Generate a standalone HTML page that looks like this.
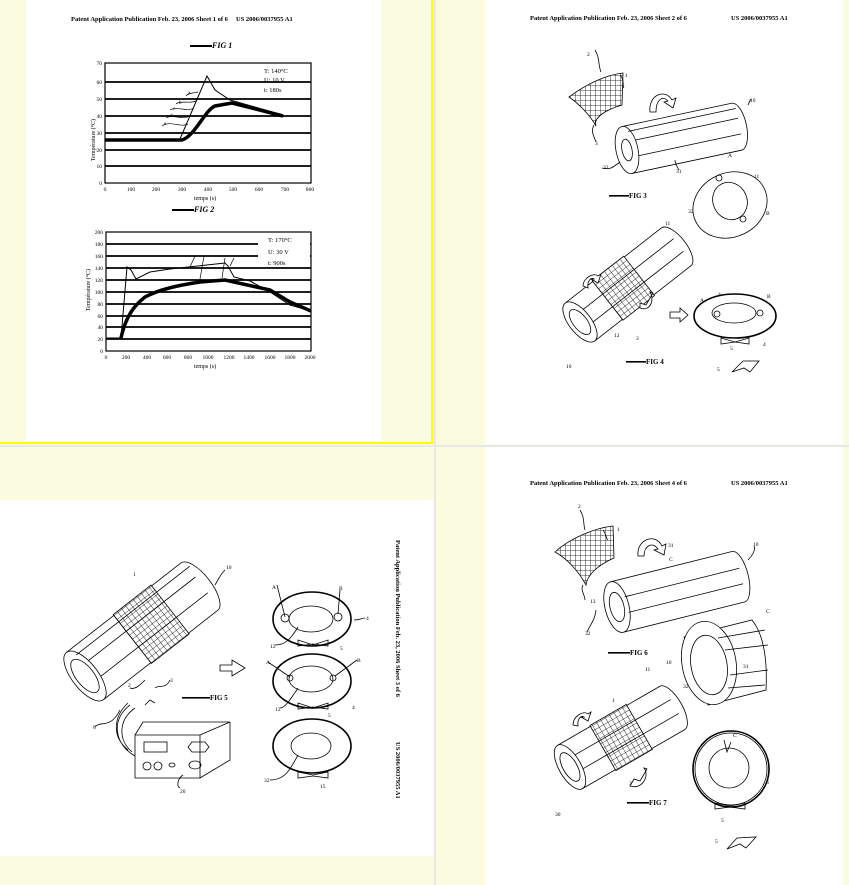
<!DOCTYPE html>
<html><head><meta charset="utf-8"><style>
html,body{margin:0;padding:0;background:#fbfbdf;}
svg{display:block;}
text{font-family:"Liberation Serif",serif;fill:#000;}
</style></head><body>
<svg width="849" height="885" viewBox="0 0 849 885" xmlns="http://www.w3.org/2000/svg">
<rect width="849" height="885" fill="#fbfbdf"/>
<!-- pages -->
<rect x="26" y="0" width="355" height="441" fill="#fff"/>
<rect x="485" y="0" width="358" height="444" fill="#fff"/>
<rect x="485" y="447" width="358" height="438" fill="#fff"/>
<rect x="0" y="500" width="433" height="356" fill="#fff"/>
<!-- dividers -->
<rect x="0" y="442" width="434" height="2" fill="#ffff00"/>
<rect x="431" y="0" width="2" height="444" fill="#ffff00"/>
<rect x="434" y="0" width="2" height="885" fill="#e8e8ea"/>
<rect x="0" y="445" width="849" height="2" fill="#e8e8ea"/>

<!-- ===== TOP LEFT: charts ===== -->
<text x="71" y="21" font-size="6.5" font-weight="bold">Patent Application Publication   Feb. 23, 2006   Sheet 1 of 6</text>
<text x="236" y="21" font-size="6.5" font-weight="bold">US 2006/0037955 A1</text>
<rect x="190" y="45" width="22" height="2" fill="#000"/><text x="212" y="48" font-size="8" font-weight="bold" font-style="italic">FIG 1</text>
<g stroke="#000" fill="none">
<rect x="105" y="63" width="206" height="120" stroke-width="1.2"/>
<g stroke-width="1.8"><line x1="105" y1="82" x2="311" y2="82"/><line x1="105" y1="99" x2="311" y2="99"/><line x1="105" y1="116" x2="311" y2="116"/><line x1="105" y1="133" x2="311" y2="133"/><line x1="105" y1="150" x2="311" y2="150"/><line x1="105" y1="166" x2="311" y2="166"/></g>
<path d="M105 139 L180 139 L207 76 L215 90 L230 100 L283 115" stroke-width="1"/>
<path d="M105 140 L182 140 C195 136 205 110 215 106 L232 103 L283 116" stroke-width="3.5"/>
<path d="M162 126 C170 120 180 128 188 124 M166 118 C172 114 182 120 190 116 M170 110 C176 106 188 112 194 108 M176 104 C180 100 190 104 196 101 M186 96 C188 93 194 93 198 92" stroke-width="0.7"/>
</g>
<g font-size="6.5" font-family="Liberation Sans,sans-serif">
<text x="264" y="73">T: 140°C</text><text x="264" y="82">U: 10 V</text><text x="264" y="92">t: 180s</text>
<text x="164" y="125" font-size="5">e</text><text x="170" y="117" font-size="5">d</text><text x="173" y="110" font-size="5">c</text><text x="179" y="104" font-size="5">b</text><text x="188" y="94" font-size="5">a</text>
</g>
<g font-size="5.5" font-family="Liberation Sans,sans-serif" text-anchor="end">
<text x="102" y="65">70</text><text x="102" y="84">60</text><text x="102" y="101">50</text><text x="102" y="118">40</text><text x="102" y="135">30</text><text x="102" y="152">20</text><text x="102" y="168">10</text><text x="102" y="185">0</text>
</g>
<g font-size="5.5" font-family="Liberation Sans,sans-serif" text-anchor="middle">
<text x="105" y="191">0</text><text x="131" y="191">100</text><text x="156" y="191">200</text><text x="182" y="191">300</text><text x="208" y="191">400</text><text x="233" y="191">500</text><text x="259" y="191">600</text><text x="285" y="191">700</text><text x="310" y="191">800</text>
<text x="205" y="200" font-size="6">temps (s)</text>
</g>
<text x="95" y="140" font-size="6" font-family="Liberation Sans,sans-serif" transform="rotate(-90 95 140)" text-anchor="middle">Température (°C)</text>
<rect x="172" y="209" width="22" height="2" fill="#000"/><text x="194" y="212" font-size="8" font-weight="bold" font-style="italic">FIG 2</text>

<!-- chart 2 -->
<g stroke="#000" fill="none">
<rect x="106" y="232" width="205" height="119" stroke-width="1.2"/>
<g stroke-width="1.8"><line x1="106" y1="244" x2="311" y2="244"/><line x1="106" y1="256" x2="311" y2="256"/><line x1="106" y1="268" x2="311" y2="268"/><line x1="106" y1="280" x2="311" y2="280"/><line x1="106" y1="292" x2="311" y2="292"/><line x1="106" y1="304" x2="311" y2="304"/><line x1="106" y1="316" x2="311" y2="316"/><line x1="106" y1="327" x2="311" y2="327"/><line x1="106" y1="339" x2="311" y2="339"/></g>
<path d="M106 338 L121 338 L127 267 L131 270 L136 279 L150 272 L170 269 L225 263 L228 266 L234 277 L250 281 L270 292 L290 305 L311 311" stroke-width="1"/>
<path d="M121 338 C126 315 135 305 145 297 C160 289 180 285 200 282 L225 280 L270 290 L290 302 L311 311" stroke-width="3.5"/>
<path d="M190 267 L195 256 M200 279 L204 256 M222 278 L225 258 M230 266 L234 258" stroke-width="0.7"/>
</g>
<rect x="258" y="236" width="52" height="30" fill="#fff"/>
<g font-size="6.5" font-family="Liberation Sans,sans-serif">
<text x="268" y="242">T: 170°C</text><text x="268" y="254">U: 30 V</text><text x="268" y="265">t: 900s</text>
</g>
<g font-size="5.5" font-family="Liberation Sans,sans-serif" text-anchor="end">
<text x="103" y="234">200</text><text x="103" y="246">180</text><text x="103" y="258">160</text><text x="103" y="270">140</text><text x="103" y="282">120</text><text x="103" y="294">100</text><text x="103" y="306">80</text><text x="103" y="318">60</text><text x="103" y="329">40</text><text x="103" y="341">20</text><text x="103" y="353">0</text>
</g>
<g font-size="5.5" font-family="Liberation Sans,sans-serif" text-anchor="middle">
<text x="106" y="359">0</text><text x="126" y="359">200</text><text x="147" y="359">400</text><text x="167" y="359">600</text><text x="188" y="359">800</text><text x="208" y="359">1000</text><text x="229" y="359">1200</text><text x="249" y="359">1400</text><text x="270" y="359">1600</text><text x="290" y="359">1800</text><text x="310" y="359">2000</text>
<text x="205" y="368" font-size="6">temps (s)</text>
</g>
<text x="90" y="290" font-size="6" font-family="Liberation Sans,sans-serif" transform="rotate(-90 90 290)" text-anchor="middle">Température (°C)</text>

<!-- ===== shared defs ===== -->
<defs>
<pattern id="mesh" width="5" height="5" patternUnits="userSpaceOnUse"><rect width="5" height="5" fill="#fff"/><path d="M0 0H5M0 0V5" stroke="#000" stroke-width="0.8"/></pattern>
</defs>

<!-- ===== TOP RIGHT ===== -->
<text x="530" y="20" font-size="6.5" font-weight="bold">Patent Application Publication   Feb. 23, 2006   Sheet 2 of 6</text>
<text x="731" y="20" font-size="6.5" font-weight="bold">US 2006/0037955 A1</text>
<g stroke="#000" fill="none" stroke-width="0.8">
<path d="M569 97 C585 85 605 75 623 73 L622 105 C605 110 593 118 596 126 C590 115 578 103 569 97Z" fill="url(#mesh)"/>
<path d="M650 112 C648 95 665 88 672 100 L676 98 L673 108 L664 102 L668 101 C662 95 656 100 656 112Z" fill="#fff"/>
<g transform="translate(627,150) rotate(-12)">
<path d="M0 -24 L112 -24 A10 24 0 0 1 112 24 L0 24" fill="#fff"/>
<ellipse cx="0" cy="0" rx="11" ry="24" fill="#fff"/><ellipse cx="0" cy="0" rx="5" ry="11"/>
<line x1="10" y1="-8" x2="115" y2="-8"/><line x1="10" y1="8" x2="115" y2="8"/><line x1="5" y1="-18" x2="115" y2="-18"/>
</g>
<ellipse cx="730" cy="205" rx="38" ry="32" transform="rotate(-25 730 205)" fill="#fff"/>
<ellipse cx="730" cy="201" rx="17" ry="19" transform="rotate(-25 730 201)"/>
<circle cx="719" cy="178" r="3"/><circle cx="743" cy="219" r="3"/>
<path d="M595 50 C600 58 598 65 601 72 M620 75 C625 80 622 86 624 88 M594 125 C590 132 595 138 596 142 M620 162 C612 168 610 170 602 168 M675 160 C675 164 678 168 679 170 M748 105 C750 100 752 98 750 100"/>
<!-- fig4 cylinder -->
<g transform="translate(580,322) rotate(-38)">
<path d="M0 -24 L122 -24 A10 24 0 0 1 122 24 L0 24" fill="#fff"/>
<rect x="35" y="-25" width="40" height="50" fill="url(#mesh)"/>
<ellipse cx="0" cy="0" rx="11" ry="24" fill="#fff"/><ellipse cx="0" cy="0" rx="7" ry="15"/>
<line x1="10" y1="-8" x2="125" y2="-8"/><line x1="10" y1="8" x2="125" y2="8"/>
</g>
<path d="M583 286 C583 278 594 272 598 276 L601 274 L598 283 L591 279 L594 279 C591 277 587 281 588 288Z" fill="#fff"/>
<path d="M640 308 C650 312 655 300 650 292 L653 293 L646 305 L640 303Z" fill="#fff"/>
<path d="M670 312 H680 V308 L688 315 L680 322 V318 H670Z" fill="#fff"/>
<ellipse cx="735" cy="316" rx="41" ry="22" fill="#fff" stroke-width="1.6"/>
<ellipse cx="734" cy="313" rx="22" ry="10"/>
<circle cx="717" cy="314" r="3"/><circle cx="760" cy="313" r="3"/>
<path d="M721 338 L735 342 L749 338 L749 344 L735 342 L721 344Z"/>
<path d="M732 372 L743 361 L759 361 L750 372 L744 368Z"/>
</g>
<rect x="609" y="195" width="20" height="1.6" fill="#000"/><text x="629" y="198" font-size="7" font-weight="bold">FIG 3</text>
<rect x="626" y="361" width="20" height="1.6" fill="#000"/><text x="646" y="364" font-size="7" font-weight="bold">FIG 4</text>
<g font-size="5.5"><text x="587" y="56">2</text><text x="625" y="77">1</text><text x="595" y="145">3</text><text x="603" y="169">32</text><text x="676" y="173">31</text><text x="750" y="102">10</text><text x="728" y="157">A</text><text x="754" y="178">11</text><text x="688" y="213">32</text><text x="766" y="215">B</text><text x="665" y="225">11</text><text x="700" y="302">A</text><text x="718" y="296">4</text><text x="767" y="298">B</text><text x="763" y="346">4</text><text x="730" y="350">5</text><text x="717" y="371">5</text><text x="614" y="337">12</text><text x="636" y="340">3</text><text x="566" y="368">10</text></g>

<!-- ===== BOTTOM LEFT ===== -->
<text x="396" y="540" font-size="6.5" font-weight="bold" transform="rotate(90 396 540)">Patent Application Publication   Feb. 23, 2006   Sheet 3 of 6</text>
<text x="396" y="742" font-size="6.5" font-weight="bold" transform="rotate(90 396 742)">US 2006/0037955 A1</text>
<g stroke="#000" fill="none" stroke-width="0.8">
<g transform="translate(85,676) rotate(-38)">
<path d="M0 -30 L145 -30 A12 30 0 0 1 145 30 L0 30" fill="#fff"/>
<rect x="60" y="-31" width="48" height="62" fill="url(#mesh)"/>
<ellipse cx="0" cy="0" rx="13" ry="30" fill="#fff"/><ellipse cx="0" cy="0" rx="9" ry="20"/>
<line x1="12" y1="-10" x2="148" y2="-10"/><line x1="12" y1="10" x2="148" y2="10"/><line x1="6" y1="-22" x2="150" y2="-22"/>
</g>
<path d="M220 665 H232 V660 L245 668 L232 676 V671 H220Z" fill="#fff"/>
<path d="M145 705 L150 700 L155 703" />
<path d="M135 735 V778 H200 V735Z M135 735 L143 722 H230 L200 735 M200 778 L230 760 V722" fill="#fff"/>
<rect x="144" y="742" width="23" height="10"/><path d="M188 747 L192 742 H205 L209 747 L205 752 H192Z"/>
<circle cx="147" cy="766" r="4"/><circle cx="158" cy="766" r="4"/><ellipse cx="172" cy="765" rx="3" ry="2"/><ellipse cx="195" cy="765" rx="6" ry="4"/>
<path d="M135 756 C115 745 110 720 130 705 M132 752 C118 740 118 720 135 708 M128 750 C110 735 115 715 128 703"/>
<path d="M95 727 C100 720 110 730 120 710 M130 688 C135 690 140 685 145 680 M155 688 C160 684 165 690 170 680"/>
<path d="M180 788 C176 786 178 778 183 775"/>
<ellipse cx="312" cy="619" rx="39" ry="27" fill="#fff" stroke-width="1.6"/><ellipse cx="311" cy="619" rx="22" ry="13"/>
<circle cx="285" cy="618" r="4"/><circle cx="338" cy="617" r="4"/>
<path d="M298 640 L313 645 L328 640 L328 646 L313 644 L298 646Z"/>
<ellipse cx="312" cy="681" rx="39" ry="27" fill="#fff" stroke-width="1.6"/><ellipse cx="311" cy="679" rx="22" ry="13"/>
<circle cx="290" cy="678" r="3"/><circle cx="333" cy="678" r="3"/>
<path d="M298 703 L313 708 L328 703 L328 709 L313 707 L298 709Z"/>
<ellipse cx="312" cy="746" rx="39" ry="27" fill="#fff" stroke-width="1.6"/><ellipse cx="311" cy="746" rx="20" ry="13"/>
<path d="M298 772 L313 775 L328 772 L328 778 L313 776 L298 778Z"/>
<path d="M277 585 L285 617 M340 590 L338 614 M354 620 C360 620 362 618 365 618 M298 627 C290 640 285 645 275 645 M225 570 C220 575 218 580 215 585 M268 662 L290 677 M357 660 L335 676 M298 688 C290 700 285 708 280 708 M298 755 C290 770 285 780 270 780"/>
</g>
<rect x="182" y="697" width="28" height="1.6" fill="#000"/><text x="210" y="700" font-size="7" font-weight="bold">FIG 5</text>
<g font-size="5.5"><text x="133" y="576">1</text><text x="226" y="569">10</text><text x="128" y="687">2</text><text x="170" y="682">3</text><text x="93" y="729">8</text><text x="180" y="793">20</text><text x="272" y="589">A</text><text x="339" y="590">B</text><text x="366" y="620">4</text><text x="270" y="648">12</text><text x="340" y="650">5</text><text x="266" y="664">A</text><text x="357" y="662">B</text><text x="352" y="709">4</text><text x="275" y="711">12</text><text x="328" y="717">5</text><text x="264" y="782">32</text><text x="320" y="788">15</text></g>

<!-- ===== BOTTOM RIGHT ===== -->
<text x="530" y="485" font-size="6.5" font-weight="bold">Patent Application Publication   Feb. 23, 2006   Sheet 4 of 6</text>
<text x="731" y="485" font-size="6.5" font-weight="bold">US 2006/0037955 A1</text>
<g stroke="#000" fill="none" stroke-width="0.8">
<path d="M555 552 C570 538 595 528 613 526 L614 558 C598 565 587 575 586 585 C578 570 566 558 555 552Z" fill="url(#mesh)"/>
<path d="M638 556 C636 540 655 532 662 546 L666 544 L664 555 L654 550 L658 549 C652 541 644 546 644 556Z" fill="#fff"/>
<g transform="translate(617,607) rotate(-14)">
<path d="M0 -26 L125 -26 A10 26 0 0 1 125 26 L0 26" fill="#fff"/>
<ellipse cx="0" cy="0" rx="12" ry="26" fill="#fff"/><ellipse cx="0" cy="0" rx="7" ry="15"/>
<line x1="10" y1="-8" x2="128" y2="-8"/><line x1="10" y1="8" x2="128" y2="8"/>
</g>
<path d="M684 637 L752 620 C760 630 768 650 766 690 L708 705 Z" fill="#fff"/>
<ellipse cx="709" cy="663" rx="27" ry="42" transform="rotate(-10 709 663)" fill="#fff"/>
<ellipse cx="709" cy="665" rx="18" ry="30" transform="rotate(-10 709 665)"/>
<path d="M718 638 L765 630 M725 650 L768 645 M730 675 L768 670 M728 688 L765 685"/>
<g transform="translate(570,767) rotate(-30)">
<path d="M0 -25 L118 -25 A10 25 0 0 1 118 25 L0 25" fill="#fff"/>
<rect x="38" y="-26" width="42" height="52" fill="url(#mesh)"/>
<ellipse cx="0" cy="0" rx="11" ry="25" fill="#fff"/><ellipse cx="0" cy="0" rx="7" ry="16"/>
<line x1="10" y1="-8" x2="121" y2="-8"/><line x1="10" y1="8" x2="121" y2="8"/>
</g>
<path d="M573 725 C573 716 584 710 588 714 L591 712 L588 721 L581 717 L584 717 C581 715 577 719 578 726Z" fill="#fff"/>
<path d="M630 786 C642 790 650 776 644 768 L647 769 L640 781 L634 779Z" fill="#fff"/>
<circle cx="731" cy="769" r="38" fill="#fff" stroke-width="1.6"/><circle cx="731" cy="769" r="36"/>
<circle cx="729" cy="768" r="20"/>
<path d="M724 740 L727 752 L731 742"/>
<path d="M715 803 L730 806 L745 803 L745 809 L730 807 L715 809Z"/>
<path d="M727 849 L737 838 L756 837 L746 848 L740 844Z"/>
<path d="M580 510 C585 518 583 524 585 530 M603 530 C607 535 606 540 608 540 M583 585 C580 590 585 595 585 600 M596 610 C595 620 590 625 587 632 M754 546 C756 550 752 556 748 560"/>
</g>
<rect x="608" y="652" width="22" height="1.6" fill="#000"/><text x="630" y="655" font-size="7" font-weight="bold">FIG 6</text>
<rect x="627" y="802" width="22" height="1.6" fill="#000"/><text x="649" y="805" font-size="7" font-weight="bold">FIG 7</text>
<g font-size="5.5"><text x="578" y="508">2</text><text x="617" y="531">1</text><text x="590" y="603">13</text><text x="585" y="635">32</text><text x="668" y="547">31</text><text x="753" y="546">10</text><text x="669" y="561">C</text><text x="766" y="613">C</text><text x="666" y="664">10</text><text x="743" y="668">31</text><text x="683" y="688">32</text><text x="645" y="671">11</text><text x="612" y="702">1</text><text x="629" y="785">3</text><text x="555" y="816">30</text><text x="733" y="737">C</text><text x="766" y="784">6</text><text x="721" y="822">5</text><text x="715" y="843">5</text></g>
</svg>
</body></html>
